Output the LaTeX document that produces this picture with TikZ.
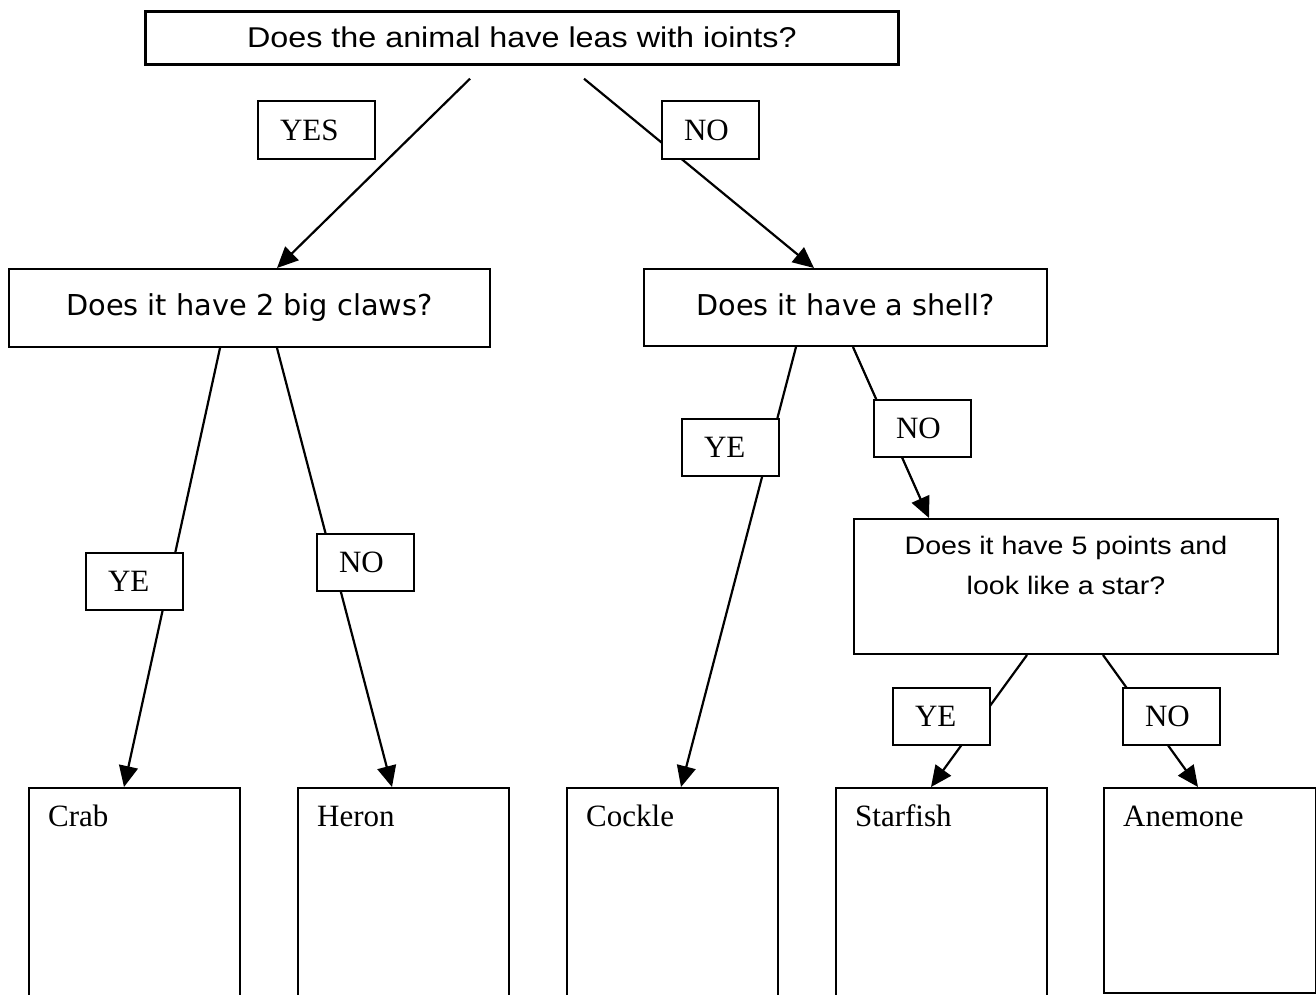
\documentclass[tikz,border=0pt]{standalone}
\usepackage{fontspec}
\setmainfont{Liberation Serif}
\newfontfamily\arialw[FakeStretch=1.13]{Liberation Sans}
\newfontfamily\comicish{DejaVu Sans}
\usetikzlibrary{arrows.meta,calc}

\tikzset{
  qbox/.style={draw, line width=2pt, anchor=north west, inner sep=0pt},
  tag/.style={draw, fill=white, line width=2pt, anchor=north west, inner xsep=22pt,
              inner ysep=0pt, text width=53pt, align=left, minimum height=57pt,
              font=\fontsize{31pt}{36pt}\selectfont},
  animal/.style={draw, line width=2pt, anchor=north west, minimum width=211pt,
                 minimum height=260pt},
  animlbl/.style={anchor=north west, inner sep=0pt, xshift=20pt, yshift=-17pt,
                  text height=22pt, font=\fontsize{31pt}{36pt}\selectfont},
  arr/.style={line width=2.2pt, -{Triangle[length=21pt,width=19pt]}},
}

\begin{document}
\begin{tikzpicture}[x=1pt, y=-1pt]
  \useasboundingbox (0,0) rectangle (1316,994);
  % questions
  \node[qbox, line width=2.7pt, minimum width=753pt, minimum height=53pt,
        text height=21pt, text depth=2pt,
        font=\arialw\fontsize{28.6pt}{34pt}\selectfont] (legs) at (144,10)
        {Does the animal have leas with ioints?};
  \node[qbox, minimum width=481pt, minimum height=78pt, text height=22pt, text depth=7pt,
        font=\comicish\fontsize{28.8pt}{34pt}\selectfont] (claws) at (8,268)
        {Does it have 2 big claws?};
  \node[qbox, minimum width=403pt, minimum height=77pt, text height=22pt, text depth=7pt,
        font=\comicish\fontsize{28.7pt}{34pt}\selectfont] (shell) at (643,268)
        {Does it have a shell?};
  \node[qbox, minimum width=424pt, minimum height=135pt,
        label={[anchor=north, inner sep=0pt, yshift=-18pt, align=center,
                font=\arialw\fontsize{25.3pt}{40pt}\selectfont]north:Does it have 5 points and\\look like a star?}]
        (star) at (853,518) {};
  % answers
  \foreach \x/\nm/\txt in {28/crab/Crab, 297/heron/Heron, 566/cockle/Cockle, 835/starfish/Starfish}
    \node[animal, label={[animlbl]north west:\txt}] (\nm) at (\x,787) {};
  \node[animal, minimum width=212pt, minimum height=205pt,
        label={[animlbl]north west:Anemone}] (anemone) at (1103,787) {};
  % arrows
  \draw[arr] ($(legs.south west)+(326,13)$) -- ($(claws.north west)+(269,0)$);
  \draw[arr] ($(legs.south west)+(440,13)$) -- ($(shell.north west)+(171,0)$);
  \draw[arr] ($(claws.south west)+(212,0)$) -- ($(crab.north west)+(96,0)$);
  \draw[arr] ($(claws.south west)+(269,0)$) -- ($(heron.north west)+(95,0)$);
  \draw[arr] ($(shell.south west)+(153,0)$) -- ($(cockle.north west)+(115,0)$);
  \draw[arr] ($(shell.south west)+(210,0)$) -- ($(star.north west)+(76,0)$);
  \draw[arr] ($(star.south west)+(174,0)$) -- ($(starfish.north west)+(96,0)$);
  \draw[arr] ($(star.south west)+(250,0)$) -- ($(anemone.north west)+(95,0)$);
  % yes / no tags
  \node[tag, text width=73pt, minimum height=58pt] (yes1) at (257,100) {YES};
  \node[tag, minimum height=58pt] (no1) at (661,100) {NO};
  \node[tag] (ye2) at (85,552) {YE};
  \node[tag] (no2) at (316,533) {NO};
  \node[tag] (ye3) at (681,418) {YE};
  \node[tag] (no3) at (873,399) {NO};
  \node[tag] (ye4) at (892,687) {YE};
  \node[tag] (no4) at (1122,687) {NO};
\end{tikzpicture}
\end{document}
